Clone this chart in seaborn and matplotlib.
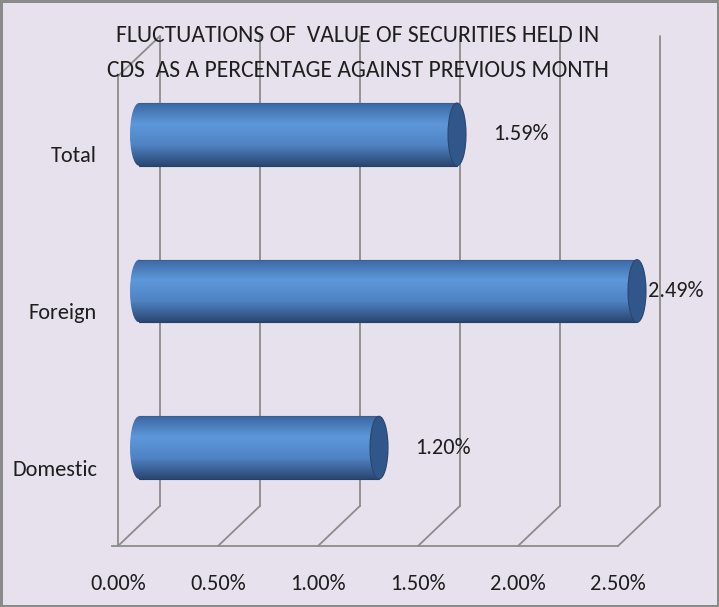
import numpy as np
import pandas as pd
import matplotlib.pyplot as plt
import seaborn as sns
from matplotlib.colors import LinearSegmentedColormap
from matplotlib.patches import Ellipse

categories = ["Total", "Foreign", "Domestic"]
values = [1.59, 2.49, 1.20]
tick_values = [0.0, 0.5, 1.0, 1.5, 2.0, 2.5]
title = ("FLUCTUATIONS OF  VALUE OF SECURITIES HELD IN\n"
         "CDS  AS A PERCENTAGE AGAINST PREVIOUS MONTH")

bg = "#E6E1EC"
grid_color = "#8C8C8C"
text_color = "#1E1E1E"
font = ["Carlito", "DejaVu Sans"]

# fake 3D depth of the excel chart (data units)
depth_x = 0.21
depth_y = 0.256
bar_h = 0.40
cap_w = 0.09

sns.set_style("white")
plt.rcParams["font.family"] = font

fig = plt.figure(figsize=(7.19, 6.07), dpi=100)
fig.patch.set_facecolor(bg)
fig.patch.set_edgecolor("#8A8A8A")
fig.patch.set_linewidth(2.5)

ax = fig.add_axes([118 / 719, 61 / 607, 542 / 719, 510 / 607])
ax.set_facecolor("none")

df = pd.DataFrame({"category": categories, "value": values})
sns.barplot(data=df, x="value", y="category", orient="h", width=bar_h,
            color="#4F87C8", ax=ax, zorder=3)

y_top, y_bot = -0.5 - depth_y / 2, len(categories) - 0.5 + depth_y / 2
x_max = tick_values[-1] + depth_x

# back wall, left wall and floor lines
for t in tick_values:
    ax.plot([t + depth_x, t + depth_x], [y_top, y_bot - depth_y],
            color=grid_color, lw=1.3, zorder=1, clip_on=False)
    ax.plot([t, t + depth_x], [y_bot, y_bot - depth_y],
            color=grid_color, lw=1.3, zorder=1, clip_on=False)
ax.plot([0, depth_x], [y_top + depth_y, y_top], color=grid_color, lw=1.3,
        zorder=1, clip_on=False)

# cylinders
cmap = LinearSegmentedColormap.from_list(
    "cyl", ["#3B67A2", "#5E98DA", "#4F83C3", "#2A4670"])
grad = np.linspace(0, 1, 256).reshape(-1, 1)
for p in list(ax.patches):
    p.set_x(p.get_x() + depth_x / 2)
    p.set_facecolor("none")
    p.set_edgecolor("none")
    x0 = p.get_x()
    x1 = x0 + p.get_width()
    yc = p.get_y() + p.get_height() / 2
    left = Ellipse((x0, yc), cap_w, bar_h, facecolor="none", edgecolor="none")
    ax.add_patch(left)
    for clip in (p, left):
        im = ax.imshow(grad, cmap=cmap, aspect="auto", origin="upper",
                       extent=(x0 - cap_w / 2, x1, yc + bar_h / 2, yc - bar_h / 2),
                       interpolation="bilinear", zorder=4)
        im.set_clip_path(clip)
    ax.plot([x0, x1], [yc - bar_h / 2, yc - bar_h / 2], color="#3A5F90",
            lw=0.8, zorder=5)
    ax.plot([x0, x1], [yc + bar_h / 2, yc + bar_h / 2], color="#253F66",
            lw=0.8, zorder=5)
    ax.add_patch(Ellipse((x1, yc), cap_w, bar_h, facecolor="#31568A",
                         edgecolor="#2A4670", lw=0.8, zorder=6))

# value labels
for i, v in enumerate(values):
    ax.text(min(v + 0.285, 2.65), i, f"{v:.2f}%", ha="left", va="center",
            fontsize=16, color=text_color, zorder=7)

ax.set_xlim(0, x_max)
ax.set_ylim(y_bot, y_top)

ax.set_xticks(tick_values, labels=[f"{t:.2f}%" for t in tick_values])
ax.set_yticks([i + depth_y / 2 for i in range(len(categories))], labels=categories)
ax.set_yticks([i + 0.5 + depth_y / 2 for i in range(len(categories))], minor=True)
ax.tick_params(axis="x", length=4, width=1.3, color=grid_color, pad=16,
               labelsize=16, labelcolor=text_color)
ax.tick_params(axis="y", which="major", length=0, pad=15, labelsize=16,
               labelcolor=text_color)
ax.tick_params(axis="y", which="minor", length=6, width=1.3, color=grid_color)
ax.set_xlabel("")
ax.set_ylabel("")

for s in ("top", "right"):
    ax.spines[s].set_visible(False)
ax.spines["left"].set_color(grid_color)
ax.spines["left"].set_linewidth(1.3)
ax.spines["left"].set_bounds(y_top + depth_y, y_bot)
ax.spines["bottom"].set_color(grid_color)
ax.spines["bottom"].set_linewidth(1.3)
ax.spines["bottom"].set_bounds(-0.03, tick_values[-1])

fig.text(358 / 719, 1 - 53 / 607, title, ha="center", va="center",
         fontsize=17, color=text_color, linespacing=1.85)

fig.savefig("out.png", dpi=100, facecolor=bg, edgecolor=fig.get_edgecolor())
